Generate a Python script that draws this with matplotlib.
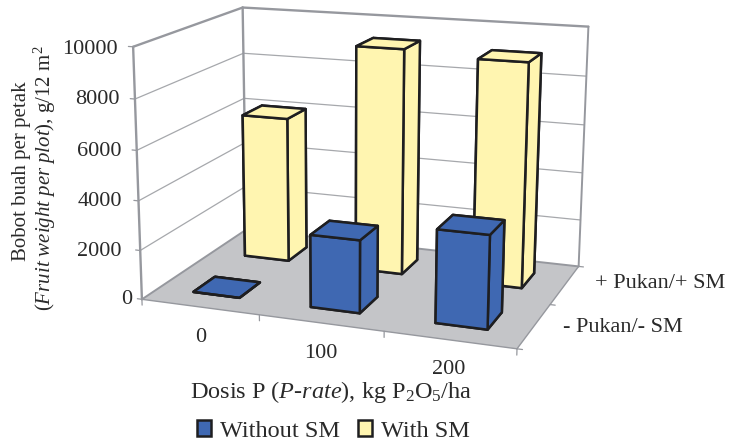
import numpy as np
import matplotlib
matplotlib.use("Agg")
import matplotlib.pyplot as plt
from matplotlib.patches import Patch
from mpl_toolkits.mplot3d.art3d import Poly3DCollection, Line3DCollection

plt.rcParams['font.family'] = ['Liberation Serif', 'DejaVu Serif']
plt.rcParams['mathtext.fontset'] = 'custom'
plt.rcParams['mathtext.rm'] = 'Liberation Serif'
plt.rcParams['mathtext.it'] = 'Liberation Serif:italic'
plt.rcParams['mathtext.bf'] = 'Liberation Serif:bold'

categories = ['0', '100', '200']
series_names = ['Without SM', 'With SM']
depth_labels = ['- Pukan/- SM', '+ Pukan/+ SM']
without_sm = [0, 2900, 3650]
with_sm = [6100, 9300, 9100]
z_ticks = [0, 2000, 4000, 6000, 8000, 10000]

W, H = 729, 445
BLUE, YELLOW, EDGE = '#3F68B2', '#FFF5B0', '#1E1E20'
WALL, GRID, FLOOR = '#96989E', '#A6A8AC', '#C4C5C8'
ZMAX = z_ticks[-1]

fig = plt.figure(figsize=(W / 100, H / 100), dpi=100)
h = W / H
ax = fig.add_axes([0, -(h - 1) / 2, 1, h], projection='3d')
ax.set_axis_off()
ax.patch.set_alpha(0)
ax.computed_zorder = False
ax.apply_aspect()

# camera: pixel positions of the plot box corners
corners = [
    ((0, 0, 0), (143, 298)), ((3, 0, 0), (517, 350)),
    ((3, 2, 0), (579, 265)), ((0, 2, 0), (245, 231)),
    ((0, 0, 1), (132, 47)), ((0, 2, 1), (244, 7)),
    ((3, 2, 1), (588, 27)),
]
rows, rhs = [], []
inv = ax.transData.inverted()
for (X, Y, Z), (px, py) in corners:
    u, v = inv.transform((px, H - py))
    rows.append([X, Y, Z, 1, 0, 0, 0, 0, -u * X, -u * Y, -u * Z])
    rows.append([0, 0, 0, 0, X, Y, Z, 1, -v * X, -v * Y, -v * Z])
    rhs += [u, v]
p = np.linalg.lstsq(np.array(rows, float), np.array(rhs, float), rcond=None)[0]
M = np.array([
    [p[0], p[1], p[2] / ZMAX, p[3]],
    [p[4], p[5], p[6] / ZMAX, p[7]],
    [-0.10, 0.2, -0.3 / ZMAX, 2.0],
    [p[8], p[9], p[10] / ZMAX, 1.0],
])
ax.get_proj = lambda: M


def lines(segments, colour, width, zorder=3):
    coll = Line3DCollection(segments, colors=colour, linewidths=width, zorder=zorder,
                            capstyle='round')
    ax.add_collection3d(coll, autolim=False)


# floor
floor = Poly3DCollection([[(0, 0, 0), (3, 0, 0), (3, 2, 0), (0, 2, 0)]],
                         facecolors=FLOOR, edgecolors='none', zorder=1)
ax.add_collection3d(floor, autolim=False)

# walls and gridlines
grid = []
for z in z_ticks[1:-1]:
    grid += [[(0, 0, z), (0, 2, z)], [(0, 2, z), (3, 2, z)]]
lines(grid, GRID, 0.9, zorder=2)
lines([[(0, 0, ZMAX), (0, 2, ZMAX)], [(0, 2, ZMAX), (3, 2, ZMAX)],
       [(0, 0, 0), (0, 0, ZMAX)], [(0, 2, 0), (0, 2, ZMAX)]], WALL, 1.7)
lines([[(3, 2, 0), (3, 2, ZMAX)], [(0, 2, 0), (3, 2, 0)], [(0, 0, 0), (0, 2, 0)]], WALL, 1.4)
lines([[(0, 0, 0), (3, 0, 0)], [(3, 0, 0), (3, 2, 0)]], WALL, 1.0)

# ticks
ticks = [[(0, 0, z), (-0.04, 0, z)] for z in z_ticks]
ticks += [[(i, 0, 0), (i, 0, -240)] for i in range(len(categories) + 1)]
ticks += [[(3, j, 0), (3.04, j, 0)] for j in range(len(depth_labels) + 1)]
lines(ticks, WALL, 0.9)

# bars
WIDTH = 0.4
OFFSET = 0.3
order = 10
for row, (values, colour) in reversed(list(enumerate(zip([without_sm, with_sm], [BLUE, YELLOW])))):
    for i, val in enumerate(values):
        ax.bar3d(i + OFFSET, row + OFFSET, 0, WIDTH, WIDTH, val,
                 color=colour, edgecolor=EDGE, linewidth=1.8, shade=False, zorder=order)
        order += 1
ax.set_xlim(0, 3); ax.set_ylim(0, 2); ax.set_zlim(0, ZMAX)

# text
TC = '#2A2A2A'
FS = 16


def label(px, py, s, **kw):
    kw.setdefault('fontsize', FS)
    kw.setdefault('color', TC)
    kw.setdefault('ha', 'center')
    kw.setdefault('va', 'center')
    fig.text(px / W, 1 - py / H, s, **kw)


z_label_pos = [(132, 300), (122, 252), (122, 202), (122, 151), (120, 100), (118, 49)]
for val, (px, py) in zip(z_ticks, z_label_pos):
    label(px, py, str(val), ha='right')
for s, (px, py) in zip(categories, [(201, 337), (321, 354), (449, 370)]):
    label(px, py, s)
label(563, 328, depth_labels[0], ha='left')
label(595, 283, depth_labels[1], ha='left')
label(22, 171, 'Bobot buah per petak', rotation=90, fontsize=15)
label(45, 178, r'($\mathit{Fruit\ weight\ per\ plot}$), g/12 m$^{2}$', rotation=90, fontsize=15)
label(331, 392, r'Dosis P ($\mathit{P}$-$\mathit{rate}$), kg P$_{2}$O$_{5}$/ha', fontsize=17.5)

handles = [Patch(facecolor=BLUE, edgecolor=EDGE, linewidth=1.8, label=series_names[0]),
           Patch(facecolor=YELLOW, edgecolor=EDGE, linewidth=1.8, label=series_names[1])]
fig.legend(handles=handles, loc='center', bbox_to_anchor=(333.5 / W, 1 - 431 / H), ncol=2,
           frameon=False, fontsize=17.5, handlelength=0.58, handleheight=0.58,
           handletextpad=0.37, columnspacing=0.74, labelcolor=TC,
           borderpad=0, borderaxespad=0)

fig.savefig('out.png', dpi=100)
